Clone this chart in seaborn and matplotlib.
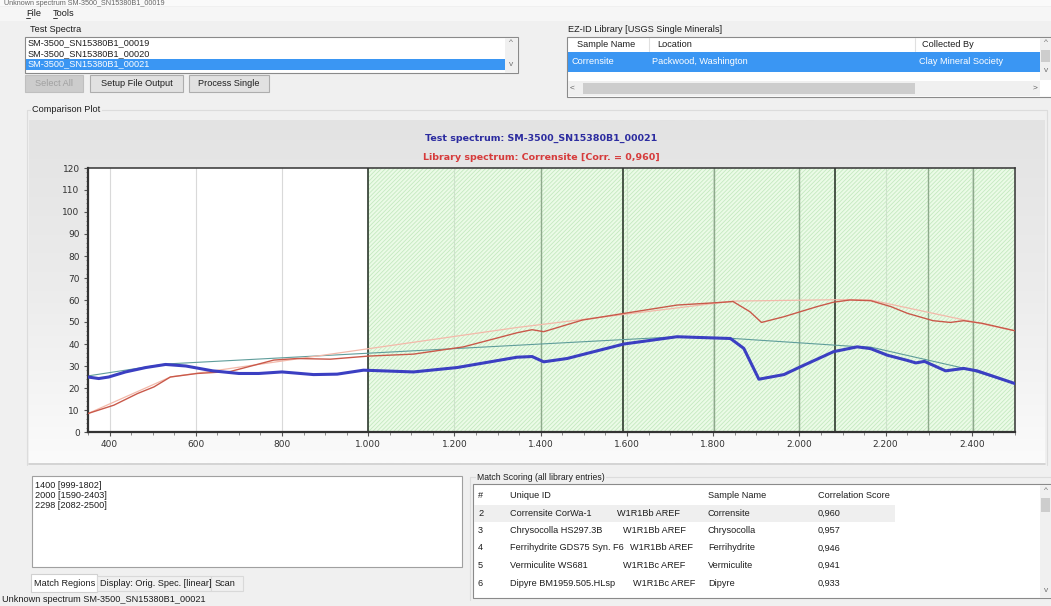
import numpy as np
import matplotlib
matplotlib.use('Agg')
import matplotlib.pyplot as plt
import seaborn as sns
from matplotlib.patches import Rectangle
from matplotlib.colors import LinearSegmentedColormap
from matplotlib.ticker import FuncFormatter, MultipleLocator

# ---- spectra (wavelength nm, reflectance %) ----
test_wl = [350, 375, 398, 437, 484, 530, 577, 639, 700, 746, 800, 873, 928, 989,
           1105, 1206, 1283, 1345, 1380, 1407, 1461, 1593, 1716, 1840, 1871, 1906,
           1964, 2002, 2079, 2134, 2165, 2204, 2251, 2270, 2290, 2339, 2381, 2412, 2500]
test_refl = [25.0, 24.3, 25.0, 27.3, 29.3, 30.7, 30.0, 27.8, 26.6, 26.6, 27.3, 26.1, 26.3, 28.1,
             27.3, 29.3, 31.9, 34.0, 34.3, 31.9, 33.4, 40.0, 43.3, 42.5, 38.0, 24.0,
             26.1, 29.6, 36.5, 38.7, 37.9, 34.9, 32.5, 31.4, 32.1, 27.8, 28.9, 27.8, 22.0]

lib_wl = [350, 410, 465, 503, 541, 603, 680, 781, 835, 912, 1000, 1105, 1221, 1345,
          1380, 1407, 1497, 1593, 1716, 1809, 1846, 1885, 1912, 1964, 2041, 2079, 2117,
          2165, 2212, 2251, 2310, 2350, 2381, 2424, 2500]
lib_refl = [8.4, 12.2, 17.5, 20.5, 25.0, 26.6, 27.5, 32.7, 33.4, 33.1, 34.5, 35.4, 38.7, 45.1,
            46.5, 45.6, 50.9, 53.9, 57.7, 58.8, 59.3, 54.7, 49.8, 52.4, 57.0, 59.0, 60.0,
            59.7, 57.0, 53.9, 50.6, 49.8, 50.6, 49.4, 46.0]

# continuum (hull) lines
test_hull_wl = [350, 530, 1716, 1840, 2134, 2165, 2381, 2500]
test_hull_refl = [25.5, 30.9, 43.3, 42.6, 38.8, 38.6, 29.0, 22.0]
lib_hull_wl = [350, 541, 1345, 1846, 2117, 2165, 2500]
lib_hull_refl = [8.4, 25.0, 47.5, 59.5, 60.2, 60.0, 46.0]

# match regions
region_centers = [1400, 2000, 2298]
region_starts = [999, 1590, 2082]
region_ends = [1802, 2403, 2500]

# ---- GUI text ----
test_spectra = ["SM-3500_SN15380B1_00019", "SM-3500_SN15380B1_00020", "SM-3500_SN15380B1_00021"]
lib_header = ["Sample Name", "Location", "Collected By"]
lib_row = ["Corrensite", "Packwood, Washington", "Clay Mineral Society"]
match_rank = ["2", "3", "4", "5", "6"]
match_uid = ["Corrensite CorWa-1", "Chrysocolla HS297.3B", "Ferrihydrite GDS75 Syn. F6",
             "Vermiculite WS681", "Dipyre BM1959.505.HLsp"]
match_code = ["W1R1Bb AREF", "W1R1Bb AREF", "W1R1Bb AREF", "W1R1Bc AREF", "W1R1Bc AREF"]
match_sample = ["Corrensite", "Chrysocolla", "Ferrihydrite", "Vermiculite", "Dipyre"]
match_score = ["0,960", "0,957", "0,946", "0,941", "0,933"]
code_x = [617, 623, 630, 623, 633]  # where the second part of each ID sits

W, H = 1051, 606
sns.set_style('white')
plt.rcParams['font.family'] = ['Liberation Sans', 'DejaVu Sans']
plt.rcParams['hatch.linewidth'] = 0.6

fig = plt.figure(figsize=(W / 100, H / 100), dpi=100)
fig.patch.set_facecolor('#f0f0f0')

# background axes in pixel coordinates (y down)
bg = fig.add_axes([0, 0, 1, 1])
bg.set_xlim(0, W)
bg.set_ylim(H, 0)
bg.axis('off')


def box(x0, y0, x1, y1, fc='white', ec='#a9a9a9', lw=0.8, z=1):
    bg.add_patch(Rectangle((x0, y0), x1 - x0, y1 - y0, facecolor=fc, edgecolor=ec, linewidth=lw, zorder=z))


def label(x, y, s, size=6.6, color='#1e1e1e', ha='left', z=3, **kw):
    bg.text(x, y, s, fontsize=size, color=color, ha=ha, va='center', zorder=z, **kw)


# window title + menu
box(0, 0, W, 6, fc='#fafafa', ec='none')
label(4, 3.2, "Unknown spectrum SM-3500_SN15380B1_00019", size=5.2, color='#666666')
box(0, 7, W, 21, fc='#f6f6f6', ec='none')
label(26, 13.5, "File")
label(53, 13.5, "Tools")
bg.plot([26, 30], [18, 18], color='#1e1e1e', lw=0.6)
bg.plot([53, 57], [18, 18], color='#1e1e1e', lw=0.6)

# Test spectra list
label(30, 29, "Test Spectra")
box(25, 37, 518, 73, ec='#8a8a8a')
for i, s in enumerate(test_spectra):
    yy = 43 + i * 10.5
    if i == len(test_spectra) - 1:
        box(25.5, yy - 5.5, 505, yy + 6, fc='#3a96f3', ec='none', z=2)
        label(28, yy, s, color='white')
    else:
        label(28, yy, s)
box(505, 37.5, 517.5, 72.5, fc='#f0f0f0', ec='none', z=2)
label(511, 43, "^", size=6, color='#707070', ha='center')
label(511, 65, "v", size=6, color='#707070', ha='center')

# buttons
box(25, 75, 83, 92, fc='#cccccc', ec='#bfbfbf')
label(54, 83.5, "Select All", color='#a0a0a0', ha='center')
box(90, 75, 183, 92, fc='#e1e1e1', ec='#adadad')
label(136.5, 83.5, "Setup File Output", ha='center')
box(189, 75, 269, 92, fc='#e1e1e1', ec='#adadad')
label(229, 83.5, "Process Single", ha='center')

# EZ-ID library table
label(568, 30, "EZ-ID Library [USGS Single Minerals]")
box(567, 37, 1053, 97, ec='#8a8a8a')
for xs, s in zip([577, 657, 922], lib_header):
    label(xs, 44.5, s)
for xs in [649, 915]:
    bg.plot([xs, xs], [38, 51], color='#e0e0e0', lw=0.8, zorder=3)
box(567.5, 52, 1040, 72, fc='#3a96f3', ec='none', z=2)
for xs, s in zip([571, 652, 919], lib_row):
    label(xs, 62, s, color='white')
box(567.5, 81, 1040, 96, fc='#f0f0f0', ec='none', z=2)
box(583, 83, 915, 94, fc='#cdcdcd', ec='none', z=2)
label(572, 88.5, "<", size=6, color='#606060', ha='center')
label(1035, 88.5, ">", size=6, color='#606060', ha='center')
box(1040, 37.5, 1051, 80, fc='#f0f0f0', ec='none', z=2)
box(1041, 50, 1050, 62, fc='#cdcdcd', ec='none', z=2)
label(1046, 43, "^", size=6, color='#707070', ha='center')
label(1046, 71, "v", size=6, color='#707070', ha='center')

# comparison plot group + gradient panel
bg.plot([27, 27, 1047, 1047], [465, 110, 110, 465], color='#dcdcdc', lw=0.8, zorder=1)
label(32, 110, "Comparison Plot", z=4, bbox=dict(fc='#f0f0f0', ec='none', pad=1))
grad = LinearSegmentedColormap.from_list('panel', ['#e3e3e3', '#ececec', '#fbfbfb'])
bg.imshow(np.linspace(0, 1, 200)[:, None], extent=[29, 1045, 463, 120], origin='upper',
          cmap=grad, aspect='auto', zorder=1)
bg.set_xlim(0, W)
bg.set_ylim(H, 0)
bg.plot([29, 1045], [463.5, 463.5], color='#cfcfcf', lw=1.2, zorder=2)

bg.text(541, 138, "Test spectrum: SM-3500_SN15380B1_00021", family='DejaVu Sans',
        fontsize=6.8, fontweight='bold', color='#2c2ca0', ha='center', va='center', zorder=3)
bg.text(541, 157, "Library spectrum: Corrensite [Corr. = 0,960]", family='DejaVu Sans',
        fontsize=6.8, fontweight='bold', color='#d63b3b', ha='center', va='center', zorder=3)

# match regions list + tabs
box(32, 476, 462, 567, ec='#a0a0a0')
for i, (c, s, e) in enumerate(zip(region_centers, region_starts, region_ends)):
    label(35, 485 + i * 10.5, f"{c} [{s}-{e}]")
box(31, 574, 97, 592, fc='#ffffff', ec='#d0d0d0')
label(34, 584, "Match Regions")
box(97, 576, 211, 591, fc='#f0f0f0', ec='#d9d9d9')
label(100, 584, "Display: Orig. Spec. [linear]")
box(211, 576, 243, 591, fc='#f0f0f0', ec='#d9d9d9')
label(215, 584, "Scan")
label(2, 599, "Unknown spectrum SM-3500_SN15380B1_00021")

# match scoring table
bg.plot([470, 470, 1051], [600, 477, 477], color='#dcdcdc', lw=0.8, zorder=1)
label(477, 477, "Match Scoring (all library entries)", size=6.2, z=4,
      bbox=dict(fc='#f0f0f0', ec='none', pad=1))
box(473, 484, 1051, 598, ec='#8a8a8a')
for xs, s in zip([478, 510, 708, 818], ["#", "Unique ID", "Sample Name", "Correlation Score"]):
    label(xs, 495, s)
box(474, 505, 895, 521.5, fc='#efefef', ec='none', z=2)
for i in range(len(match_rank)):
    yy = 513 + i * 17.5
    label(478, yy, match_rank[i])
    label(510, yy, match_uid[i])
    label(code_x[i], yy, match_code[i])
    label(708, yy, match_sample[i])
    label(818, yy, match_score[i])
box(1040, 484.5, 1050.5, 597.5, fc='#f0f0f0', ec='none', z=2)
box(1041, 498, 1050, 512, fc='#cdcdcd', ec='none', z=2)
label(1046, 490, "^", size=6, color='#707070', ha='center')
label(1046, 591, "v", size=6, color='#707070', ha='center')

# ---- the spectrum plot ----
left, top, right, bottom = 88, 168, 1015, 432
ax = fig.add_axes([left / W, 1 - bottom / H, (right - left) / W, (bottom - top) / H])
ax.set_facecolor('white')
ax.set_xlim(350, 2500)
ax.set_ylim(0, 120)

ax.axvspan(region_starts[0], region_ends[-1], facecolor='#ebfbe7', edgecolor='#c4e9c0',
           hatch='////////', linewidth=0, zorder=0)
for xv in range(400, 2500, 200):
    ax.axvline(xv, color='#d9d9d9' if xv < 1000 else '#cde2cb', lw=0.8, zorder=0.5)
for xv in region_centers + region_ends[:2]:
    ax.axvline(xv, color='#8ea98c', lw=1.0, zorder=0.8)
for xv in region_starts:
    ax.axvline(xv, color='#2e3a2e', lw=1.2, zorder=0.9)

sns.lineplot(x=test_hull_wl, y=test_hull_refl, ax=ax, color='#5f9d9b', lw=0.8, estimator=None, sort=False, zorder=2)
sns.lineplot(x=lib_hull_wl, y=lib_hull_refl, ax=ax, color='#f3b9aa', lw=0.9, estimator=None, sort=False, zorder=2)
sns.lineplot(x=lib_wl, y=lib_refl, ax=ax, color='#c9594a', lw=1.0, estimator=None, sort=False, zorder=3)
sns.lineplot(x=test_wl, y=test_refl, ax=ax, color='#3b3fc2', lw=2.2, estimator=None, sort=False, zorder=4)

ax.xaxis.set_major_locator(MultipleLocator(200))
ax.xaxis.set_minor_locator(MultipleLocator(50))
ax.yaxis.set_major_locator(MultipleLocator(10))
ax.yaxis.set_minor_locator(MultipleLocator(2))
ax.xaxis.set_major_formatter(FuncFormatter(lambda v, p: f"{v:,.0f}".replace(',', '.')))
ax.tick_params(which='major', direction='out', length=3, width=0.8, color='#555555',
               labelsize=6.5, labelcolor='#333333', pad=3, bottom=True, left=True)
ax.tick_params(which='minor', direction='out', length=1.8, width=0.6, color='#777777', bottom=True, left=True)
for t in ax.get_xticklabels() + ax.get_yticklabels():
    t.set_family('DejaVu Sans')
for side in ['left', 'bottom']:
    ax.spines[side].set_linewidth(1.6)
    ax.spines[side].set_color('#333333')
for side in ['top', 'right']:
    ax.spines[side].set_linewidth(1.1)
    ax.spines[side].set_color('#333333')

fig.savefig('out.png', dpi=100, facecolor=fig.get_facecolor())
